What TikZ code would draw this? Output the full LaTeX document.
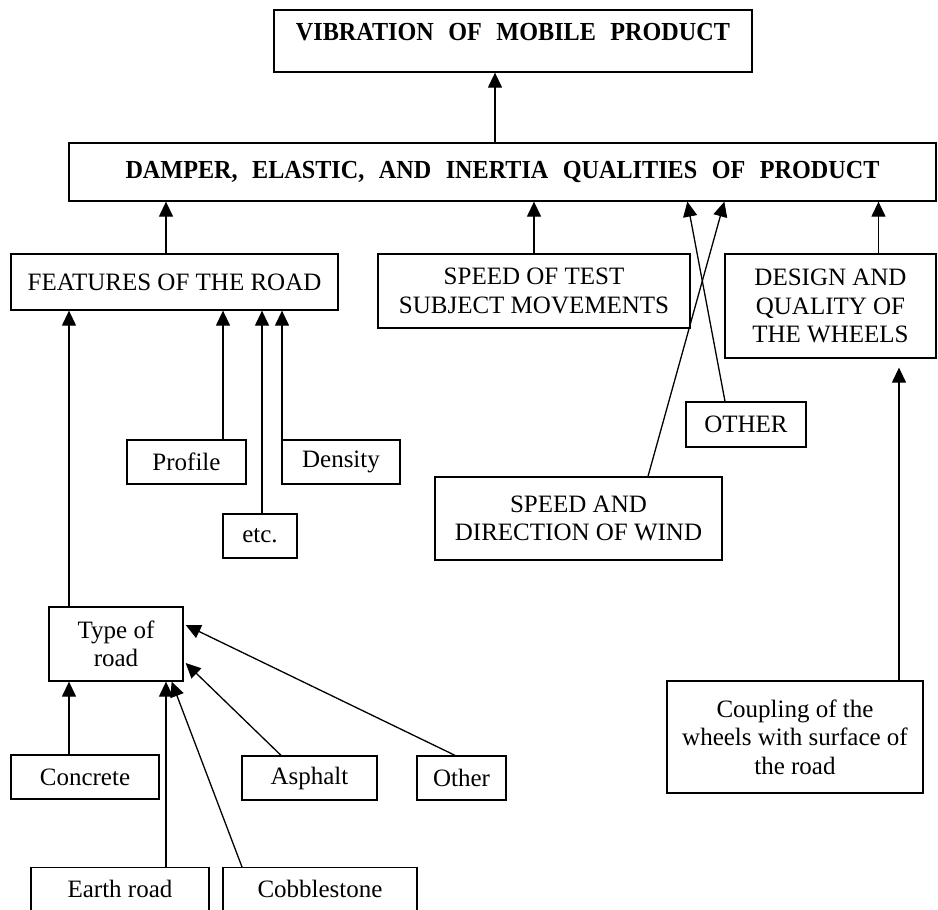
\documentclass[tikz,border=0pt]{standalone}
\usepackage{fontspec}
\setmainfont{Liberation Serif}
\newfontfamily\headfont{Liberation Serif}[WordSpace=2.4, FakeStretch=0.93]
\usetikzlibrary{arrows.meta,positioning,calc}

\begin{document}
\begin{tikzpicture}[
		x=1pt, y=-1pt,
		basic/.style = {draw, rectangle, line width=1.3pt, inner sep=0pt, align=center, font=\fontsize{25}{28.5}\selectfont},
		head/.style  = {basic, font=\headfont\bfseries\fontsize{26}{28}\selectfont},
		cut/.style   = {basic, anchor=north, text height=30pt, text depth=30pt},
		>={Triangle[length=15pt,width=14pt]},
		every path/.style={line width=1.3pt}]
		
		\useasboundingbox (0,0) rectangle (938,910);
		
		% the two heading boxes
		\node[head, minimum width=478pt, text height=31pt, text depth=31pt] (vib) at (513,41) {VIBRATION OF MOBILE PRODUCT};
		\node[head, minimum width=867pt, minimum height=58pt] (damp) at (502.5,172) {DAMPER, ELASTIC, AND INERTIA QUALITIES OF PRODUCT};
		
		% the factors, second row
		\node[basic, minimum width=327pt, minimum height=56pt] (feat) at (174.5,282) {FEATURES OF THE ROAD};
		\node[basic, minimum width=312pt, minimum height=74pt] (speed) at (534,291) {SPEED OF TEST\\SUBJECT MOVEMENTS};
		\node[basic, minimum width=211pt, minimum height=104pt] (design) at (830.5,306) {DESIGN AND\\QUALITY OF\\THE WHEELS};
		
		% features of the road
		\node[basic, minimum width=119pt, minimum height=44pt] (prof) at (186.5,462) {Profile};
		\node[basic, minimum width=118pt, minimum height=44pt] (dens) at (341,462) {Density};
		\node[basic, minimum width=74pt, minimum height=44pt] (etcb) at (260,536) {etc.};
		
		% outer factors
		\node[basic, minimum width=120pt, minimum height=45pt] (oth) at (746,424.5) {OTHER};
		\node[basic, minimum width=287pt, minimum height=83pt] (wind) at (578.5,518.5) {SPEED AND\\DIRECTION OF WIND};
		\node[basic, minimum width=256pt, minimum height=112pt] (coup) at (795,737) {Coupling of the\\wheels with surface of\\the road};
		
		% type of road and its kinds
		\node[basic, minimum width=134pt, minimum height=74pt] (type) at (116,644) {Type of\\road};
		\node[basic, minimum width=148pt, minimum height=44pt] (conc) at (85,777) {Concrete};
		\node[basic, minimum width=135pt, minimum height=44pt] (asph) at (309.5,778) {Asphalt};
		\node[basic, minimum width=89pt, minimum height=44pt] (othr) at (461.5,778) {Other};
		\node[cut, minimum width=178pt] (earth) at (120,867) {Earth road};
		\node[cut, minimum width=194pt] (cobb) at (320,867) {Cobblestone};
		
		% arrows up to the headings
		\draw[->] ($(vib.south |- damp.north)+(-18,0)$) -- ($(vib.south)+(-18,0)$);
		\draw[->] ($(feat.north)+(-8.5,0)$) -- ($(feat.north |- damp.south)+(-8.5,0)$);
		\draw[->] (speed.north) -- (speed.north |- damp.south);
		\draw[->] ($(design.north)+(48,0)$) -- ($(design.north |- damp.south)+(48,0)$);
		
		% the two crossing lines
		\draw[->] ($(oth.north)+(-21,0)$) -- ($(damp.south west)+(619,0)$);
		\draw[->] ($(wind.north)+(69.5,0)$) -- ($(damp.south west)+(656,0)$);
		
		\draw[->] ($(coup.north)+(104,0)$) -- ($(coup.north |- design.south)+(104,9)$);
		
		% lines into the features of the road
		\draw[->] ($(type.north)+(-47,0)$) -- ($(type.north |- feat.south)+(-47,0)$);
		\foreach \child/\dx in {prof/36.5, etcb/2, dens/-59}
		\draw[->] ($(\child.north)+(\dx,0)$) -- ($(\child.north |- feat.south)+(\dx,0)$);
		
		% lines into the type of road
		\draw[->] ($(conc.north)+(-16,0)$) -- ($(conc.north |- type.south)+(-16,0)$);
		\draw[->] ($(earth.north)+(46,0)$) -- ($(earth.north |- type.south)+(46,0)$);
		\draw[->] ($(cobb.north)+(-78,0)$) -- ($(type.south east)+(-12,0)$);
		\draw[->] ($(asph.north)+(-28.5,0)$) -- ($(type.east)+(2,19)$);
		\draw[->] ($(othr.north)+(-6.5,0)$) -- ($(type.east)+(2,-19)$);
		
	\end{tikzpicture}
\end{document}
